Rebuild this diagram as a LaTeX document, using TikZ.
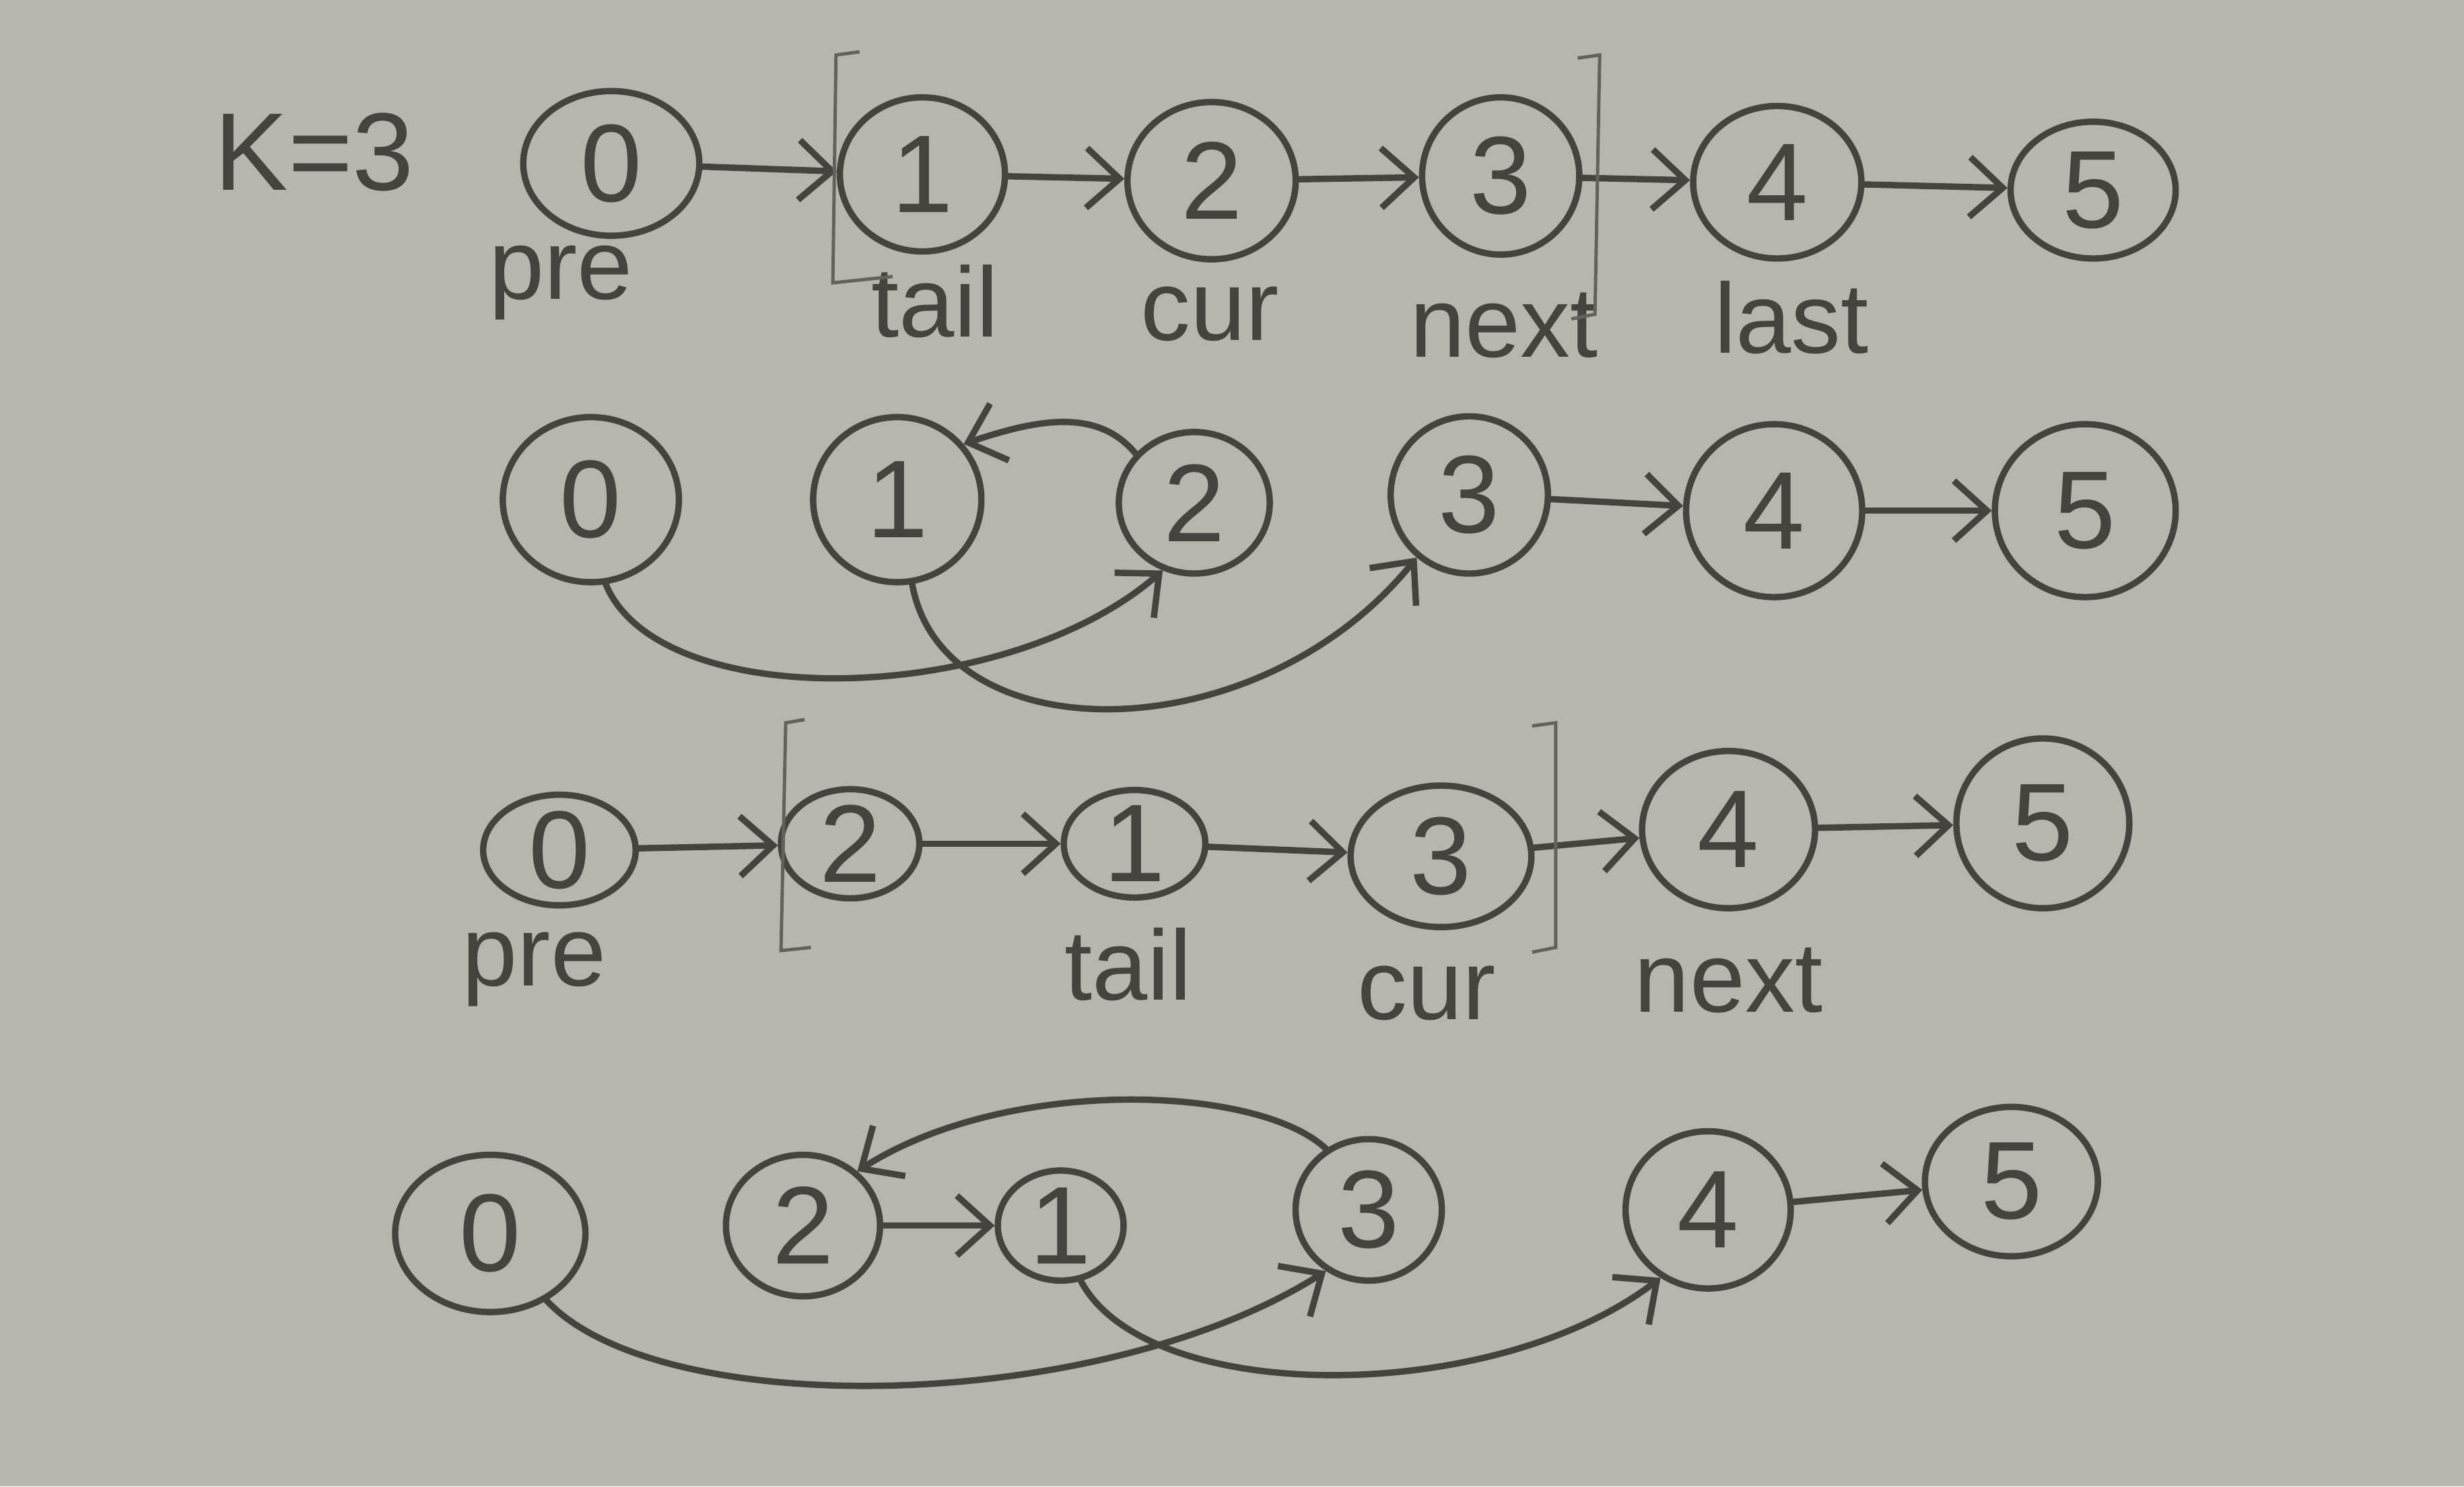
\documentclass[tikz,border=0pt]{standalone}
\usepackage{fontspec}
\setmainfont{Liberation Sans}
\usetikzlibrary{shapes.geometric,arrows.meta}
\definecolor{paper}{RGB}{184,181,175}
\definecolor{inkc}{RGB}{70,66,62}
\definecolor{brkc}{RGB}{100,96,92}
\tikzset{
  ink/.style={draw=inkc, line width=1.15pt, line cap=round, line join=round},
  nd/.style={ellipse, ink, inner sep=0pt, text=inkc, font=\fontsize{20}{20}\selectfont},
  sz/.style 2 args={minimum width=#1cm, minimum height=#2cm},
  lab/.style={text=inkc, font=\fontsize{18}{18}\selectfont, inner sep=0pt},
  arr/.style={ink, -{Straight Barb[length=2.1mm,width=3.8mm,line width=1.15pt]}},
  brk/.style={draw=brkc, line width=0.6pt},
}
\begin{document}
\begin{tikzpicture}[x=0.01cm,y=-0.01cm]
\fill[paper] (0,0) rectangle (1568,946);
\useasboundingbox (0,0) rectangle (1568,946);

% ---------- Row 1 ----------
\node[lab, font=\fontsize{20}{20}\selectfont] (k) at (200,97) {K=3};
\node[nd, sz={1.12}{0.92}] (a0) at (389,104) {0};
\node[nd, sz={1.05}{0.98}] (a1) at (587,111) {1};
\node[nd, sz={1.07}{1.00}] (a2) at (771,115) {2};
\node[nd, sz={1.00}{1.00}] (a3) at (955,112) {3};
\node[nd, sz={1.07}{0.97}] (a4) at (1131,116) {4};
\node[nd, sz={1.05}{0.87}] (a5) at (1332,121) {5};
\draw[arr] (a0) -- (a1);
\draw[arr] (a1) -- (a2);
\draw[arr] (a2) -- (a3);
\draw[arr] (a3) -- (a4);
\draw[arr] (a4) -- (a5);
\node[lab] (pa) at (357,180) {pre};
\node[lab] (ta) at (595,192) {tail};
\node[lab] (ca) at (770,200) {cur};
\node[lab] (xa) at (957,207) {next};
\node[lab] (la) at (1140,202) {last};
\draw[brk] (568,176) -- (530,180) -- (532,35) -- (547,33);
\draw[brk] (1004,37) -- (1018,35) -- (1015,200) -- (1000,203);

% ---------- Row 2 ----------
\node[nd, sz={1.12}{1.05}] (b0) at (376,318) {0};
\node[nd, sz={1.07}{1.05}] (b1) at (571,318) {1};
\node[nd, sz={0.96}{0.90}] (b2) at (760,320) {2};
\node[nd, sz={1.00}{1.00}] (b3) at (935,315) {3};
\node[nd, sz={1.12}{1.10}] (b4) at (1129,325) {4};
\node[nd, sz={1.15}{1.10}] (b5) at (1327,325) {5};
\draw[arr] (b2.140) .. controls +(-25,-30) and +(45,-15) .. (b1.40);
\draw[arr] (b0.-80) .. controls (420,455) and (640,450) .. (b2.245);
\draw[arr] (b1.-80) .. controls (600,480) and (800,480) .. (b3.230);
\draw[arr] (b3) -- (b4);
\draw[arr] (b4) -- (b5);

% ---------- Row 3 ----------
\node[nd, sz={0.97}{0.67}] (c0) at (356,541) {0};
\node[nd, sz={0.88}{0.65}] (c2) at (541,537) {2};
\node[nd, sz={0.90}{0.65}] (c1) at (722,537) {1};
\node[nd, sz={1.15}{0.90}] (c3) at (917,545) {3};
\node[nd, sz={1.10}{1.00}] (c4) at (1100,528) {4};
\node[nd, sz={1.10}{1.08}] (c5) at (1300,524) {5};
\draw[arr] (c0) -- (c2);
\draw[arr] (c2) -- (c1);
\draw[arr] (c1) -- (c3);
\draw[arr] (c3) -- (c4);
\draw[arr] (c4) -- (c5);
\node[lab] (pc) at (340,617) {pre};
\node[lab] (tc) at (718,614) {tail};
\node[lab] (cc) at (908,632) {cur};
\node[lab] (xc) at (1100,624) {next};
\draw[brk] (512,458) -- (500,460) -- (497,605) -- (516,603);
\draw[brk] (975,462) -- (990,460) -- (990,603) -- (975,606);

% ---------- Row 4 ----------
\node[nd, sz={1.21}{1.00}] (d0) at (312,785) {0};
\node[nd, sz={0.98}{0.90}] (d2) at (511,780) {2};
\node[nd, sz={0.80}{0.70}] (d1) at (675,780) {1};
\node[nd, sz={0.93}{0.90}] (d3) at (871,770) {3};
\node[nd, sz={1.05}{1.00}] (d4) at (1087,770) {4};
\node[nd, sz={1.10}{0.95}] (d5) at (1280,752) {5};
\draw[arr] (d3.125) .. controls (800,690) and (640,685) .. (d2.45);
\draw[arr] (d2) -- (d1);
\draw[arr] (d0.-50) .. controls (420,905) and (700,900) .. (d3.235);
\draw[arr] (d1.-70) .. controls (730,895) and (950,895) .. (d4.235);
\draw[arr] (d4) -- (d5);
\end{tikzpicture}
\end{document}
